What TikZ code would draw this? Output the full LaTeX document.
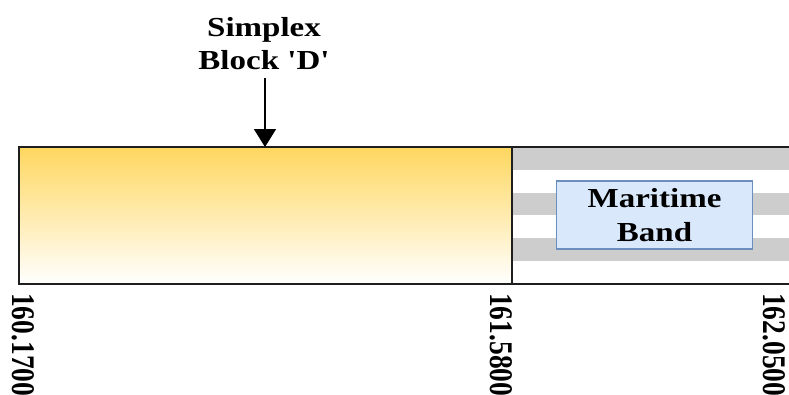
\documentclass[tikz,border=0pt]{standalone}
\usepackage{fontspec}
\setmainfont{Liberation Serif}
\usetikzlibrary{arrows.meta}
\definecolor{gold}{RGB}{255,215,95}
\definecolor{stripe}{RGB}{205,205,205}
\definecolor{bluefill}{RGB}{218,232,252}
\definecolor{blueline}{RGB}{108,142,191}
\definecolor{edge}{RGB}{30,30,30}
\newcommand{\wide}[1]{\scalebox{1.2}[1]{#1}}
\newcommand{\tall}[1]{\scalebox{1}[1.2]{#1}}
\tikzset{
  lbl/.style={font=\fontsize{27.5}{33}\selectfont\bfseries, inner sep=0pt, align=center},
  freq/.style={font=\fontsize{27.5}{32}\selectfont\bfseries, inner sep=0pt, rotate=-90, anchor=west},
  bandbox/.style={draw=blueline, fill=bluefill, line width=1.6pt, minimum width=196pt, minimum height=68pt, inner sep=0pt, align=center, font=\fontsize{27.5}{34}\selectfont\bfseries},
  border/.style={draw=edge, line width=2.2pt},
}
\begin{document}
\begin{tikzpicture}[x=1pt,y=-1pt]
\useasboundingbox (0,0) rectangle (789,394);
% yellow block
\shade[top color=gold, bottom color=white] (19,147) rectangle (512,284);
% stripes
\foreach \i in {0,1,2,3,4,5}{
  \pgfmathsetmacro{\ya}{147+\i*22.83}
  \pgfmathsetmacro{\yb}{147+(\i+1)*22.83}
  \ifodd\i
    \fill[white] (512,\ya) rectangle (789,\yb);
  \else
    \fill[stripe] (512,\ya) rectangle (789,\yb);
  \fi
}
% borders
\draw[border] (789,147) -- (19,147) -- (19,284) -- (789,284);
\draw[draw=edge, line width=1.4pt] (512,147) -- (512,284);
% maritime box
\node[bandbox] (mar) at (654.5,215) {\wide{Maritime}\\\wide{Band}};
% simplex label and arrow
\node[lbl] (simp) at (264,44) {\wide{Simplex}\\\wide{Block \textquotesingle D\textquotesingle}};
\coordinate (tip) at (265,147);
\draw[line width=1.6pt, -{Triangle[width=22pt,length=18pt]}] (265,78) -- (tip);
% frequency labels
\node[freq] (f1) at (23.5,293) {\tall{160.1700}};
\node[freq] (f2) at (501,293) {\tall{161.5800}};
\node[freq] (f3) at (774,293) {\tall{162.0500}};
\end{tikzpicture}
\end{document}
